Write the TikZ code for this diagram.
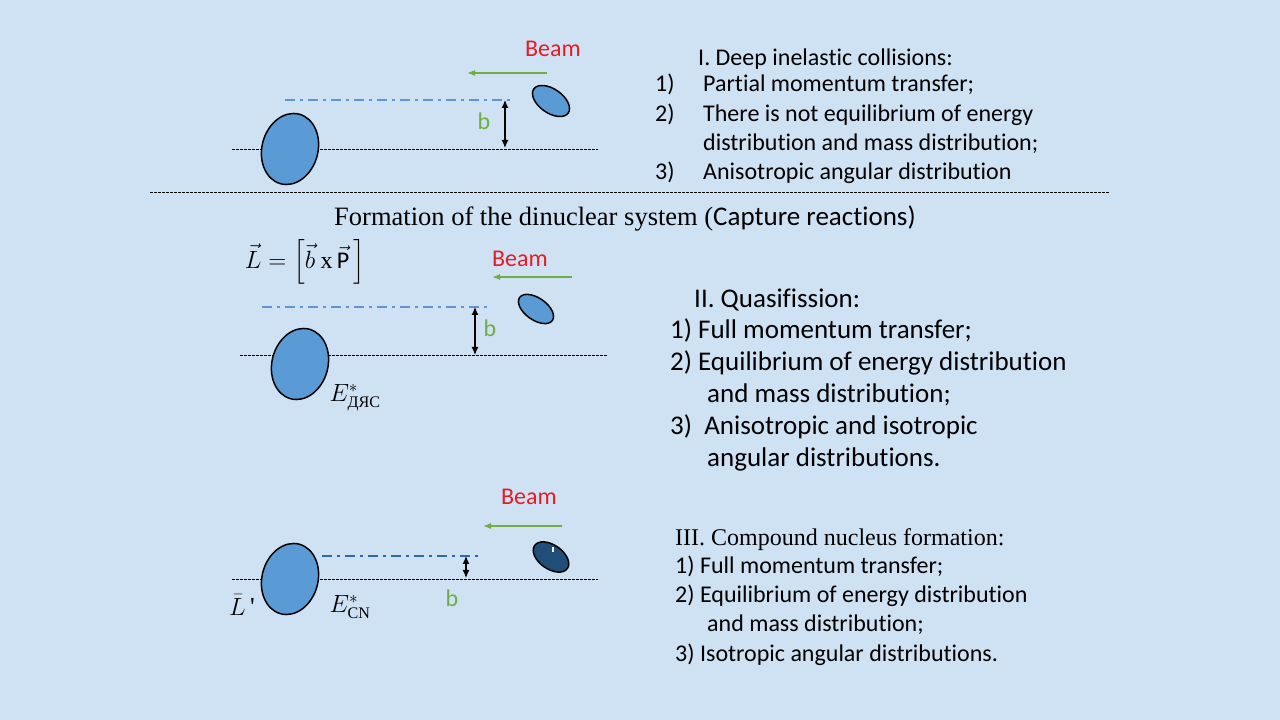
\documentclass[tikz,border=0pt]{standalone}
\usepackage{amsmath}
\usepackage{fontspec}
\setmainfont{Carlito}[Ligatures=NoCommon]
\newfontfamily\tnr{Liberation Serif}
\usetikzlibrary{arrows.meta}
\definecolor{bg}{RGB}{207, 226, 243}
\definecolor{nuc}{RGB}{91, 155, 213}
\definecolor{nucdark}{RGB}{31, 78, 121}
\definecolor{beam}{RGB}{232, 28, 36}
\definecolor{imp}{RGB}{112, 173, 71}
\definecolor{axis}{RGB}{95, 150, 205}
\definecolor{axisdark}{RGB}{46, 105, 170}

\tikzset{
  nucleus/.style={draw=black, fill=nuc, line width=1.5pt},
  track/.style={line width=0.8pt, dash pattern=on 2.5pt off 1.5pt},
  aim/.style={color=axis, line width=2pt, dash pattern=on 10pt off 5pt on 3pt off 5pt},
  impact/.style={{Latex[length=8pt,width=7pt]}-{Latex[length=8pt,width=7pt]}, line width=1.2pt},
  beamarrow/.style={-{Latex[length=8pt,width=6pt]}, color=imp, line width=1.2pt},
  beamlabel/.style={text=beam, font=\fontsize{24}{28}\selectfont},
  blabel/.style={text=imp, font=\fontsize{24}{28}\selectfont},
  lineI/.style={anchor=base west, inner sep=0pt, font=\fontsize{24}{28}\selectfont},
  lineII/.style={anchor=base west, inner sep=0pt, font=\fontsize{27}{32}\selectfont},
}

\begin{document}
\begin{tikzpicture}[x=1pt, y=1pt]
      \useasboundingbox (0, 0) rectangle (1280, 720);
      \fill[bg] (0, 0) rectangle (1280, 720);

      % deep inelastic collisions
      \draw[track] (232, 571) -- (598, 571);
      \draw[aim] (285, 620) -- (512, 620);
      \draw[nucleus] (290, 571) ellipse[x radius=28, y radius=36, rotate=-15];
      \draw[nucleus] (551, 619) ellipse[x radius=21, y radius=12, rotate=-35];
      \coordinate (bItop) at (505, 620);
      \coordinate (bIbot) at (505, 572);
      \draw[impact] (bItop) -- (bIbot);
      \node[blabel] (bI) at (484, 599) {b};
      \coordinate (beamIstart) at (547, 647);
      \coordinate (beamIend) at (467, 647);
      \draw[beamarrow] (beamIstart) -- (beamIend);
      \node[beamlabel] (beamI) at (553, 671) {Beam};

      \node[lineI] (dic) at (698, 654.5) {I. Deep inelastic collisions:};
      \node[lineI] (dicnum1) at (655, 628.5) {1)};
      \node[lineI] (dic1) at (703, 628.5) {Partial momentum transfer;};
      \node[lineI] (dicnum2) at (655, 598.5) {2)};
      \node[lineI] (dic2) at (703, 598.5) {There is not equilibrium of energy};
      \node[lineI] (dic2b) at (703, 569.5) {distribution and mass distribution;};
      \node[lineI] (dicnum3) at (655, 540.5) {3)};
      \node[lineI] (dic3) at (703, 540.5) {Anisotropic angular distribution};

      \draw[track] (150, 528) -- (1110, 528);
      \node[anchor=base west, inner sep=0pt] (dns) at (334, 494.5)
        {{\tnr\fontsize{26.5}{30}\selectfont Formation of the dinuclear system (}{\fontsize{27}{30}\selectfont Capture reactions)}};

      % quasifission
      \node (lmom) at (305, 458) {\fontsize{24}{28}\selectfont $\vec{L} = \Bigl[\vec{b}\ \text{\tnr x}\,\vec{\text{P}}\,\Bigr]$};
      \draw[track] (240, 365) -- (608, 365);
      \draw[aim] (262, 413) -- (490, 413);
      \draw[nucleus] (300, 356) ellipse[x radius=28, y radius=36, rotate=-15];
      \draw[nucleus] (536, 411) ellipse[x radius=20, y radius=11, rotate=-35];
      \coordinate (bIItop) at (475, 413);
      \coordinate (bIIbot) at (475, 365);
      \draw[impact] (bIItop) -- (bIIbot);
      \node[blabel] (bII) at (490, 392) {b};
      \coordinate (beamIIstart) at (572, 443);
      \coordinate (beamIIend) at (492, 443);
      \draw[beamarrow] (beamIIstart) -- (beamIIend);
      \node[beamlabel] (beamII) at (520, 461) {Beam};
      \node (edns) at (355, 322) {\fontsize{23}{26}\selectfont $E^{*}_{\text{\tnr ДЯС}}$};

      \node[lineII] (qf) at (694, 412) {II. Quasifission:};
      \node[lineII] (qf1) at (670, 381) {1) Full momentum transfer;};
      \node[lineII] (qf2) at (670, 349) {2) Equilibrium of energy distribution};
      \node[lineII] (qf2b) at (707, 317) {and mass distribution;};
      \node[lineII] (qf3) at (670, 285) {3)\ \ Anisotropic and isotropic};
      \node[lineII] (qf3b) at (707, 253) {angular distributions.};

      % compound nucleus formation
      \draw[track] (232, 141) -- (598, 141);
      \draw[aim, color=axisdark] (322, 164) -- (479, 164);
      \draw[nucleus] (290, 141) ellipse[x radius=28, y radius=36, rotate=-15];
      \draw[nucleus, fill=nucdark] (551, 163) ellipse[x radius=20, y radius=12, rotate=-35];
      \draw[white, line width=1.3pt] (553, 173) -- (553, 168);
      \coordinate (bIIItop) at (466, 164);
      \coordinate (bIIIbot) at (466, 142);
      \draw[impact] (bIIItop) -- (bIIIbot);
      \node[blabel] (bIII) at (452, 122) {b};
      \coordinate (beamIIIstart) at (562, 194);
      \coordinate (beamIIIend) at (483, 194);
      \draw[beamarrow] (beamIIIstart) -- (beamIIIend);
      \node[beamlabel] (beamIII) at (529, 223) {Beam};
      \node (lcn) at (242, 115) {\fontsize{26}{30}\selectfont $\bar{L}$\,{\tnr\textquotesingle}};
      \node (ecn) at (350, 113) {\fontsize{23}{26}\selectfont $E^{*}_{\text{\tnr CN}}$};

      \node[lineI, font=\tnr\fontsize{24}{28}\selectfont] (cn) at (675, 174) {III. Compound nucleus formation:};
      \node[lineI] (cn1) at (675, 146) {1) Full momentum transfer;};
      \node[lineI] (cn2) at (675, 117) {2) Equilibrium of energy distribution};
      \node[lineI] (cn2b) at (707, 88) {and mass distribution;};
      \node[lineI] (cn3) at (675, 58) {3) Isotropic angular distributions.};
    \end{tikzpicture}
\end{document}
